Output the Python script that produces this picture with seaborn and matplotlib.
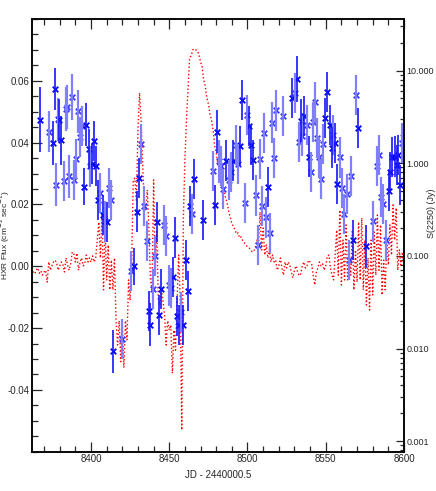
import numpy as np
import pandas as pd
import matplotlib
matplotlib.use("Agg")
import matplotlib.pyplot as plt
import matplotlib.ticker as mticker
import seaborn as sns

# HXR flux, first data set (dark symbols)
dark_jd = [8367.6, 8375.5, 8376.8, 8379.7, 8381.0, 8395.7, 8396.8, 8398.5, 8400.6, 8401.9,
           8403.2, 8404.5, 8407.5, 8410.0, 8414.3, 8427.5, 8429.2, 8430.5, 8436.9, 8437.9,
           8442.2, 8443.6, 8444.9, 8452.6, 8453.9, 8455.1, 8456.4, 8459.0, 8460.9, 8462.2,
           8463.5, 8465.8, 8471.8, 8479.4, 8480.7, 8486.3, 8490.9, 8495.2, 8496.7, 8500.9,
           8502.4, 8503.7, 8513.1, 8528.2, 8531.8, 8534.0, 8536.3, 8539.5, 8549.7, 8551.0,
           8552.5, 8553.8, 8556.1, 8557.4, 8567.6, 8570.8, 8575.5, 8590.2, 8591.3, 8592.5,
           8594.1, 8595.4, 8596.4, 8597.6]
dark_flux = [0.0474, 0.0399, 0.0573, 0.0472, 0.0407, 0.0258, 0.0458, 0.0379, 0.0332, 0.0404,
             0.0325, 0.0215, 0.0167, 0.0142, -0.0275, 0.0000, 0.0177, 0.0285, -0.0146, -0.0189,
             0.0144, -0.0157, -0.0073, -0.0035, 0.0093, -0.0160, -0.0189, -0.0189, 0.0021, -0.0081,
             0.0196, 0.0282, 0.0151, 0.0198, 0.0436, 0.0342, 0.0342, 0.0390, 0.0539, 0.0455,
             0.0393, 0.0345, 0.0256, 0.0544, 0.0606, 0.0471, 0.0487, 0.0355, 0.0479, 0.0565,
             0.0457, 0.0384, 0.0399, 0.0266, 0.0084, 0.0447, 0.0064, 0.0244, 0.0304, 0.0353,
             0.0355, 0.0328, 0.0361, 0.0262]
dark_err = [0.0105, 0.0070, 0.0068, 0.0070, 0.0080, 0.0060, 0.0070, 0.0065, 0.0065, 0.0065,
            0.0065, 0.0065, 0.0065, 0.0065, 0.0070, 0.0060, 0.0065, 0.0065, 0.0065, 0.0070,
            0.0065, 0.0065, 0.0065, 0.0065, 0.0065, 0.0065, 0.0065, 0.0065, 0.0065, 0.0065,
            0.0065, 0.0065, 0.0065, 0.0065, 0.0070, 0.0065, 0.0065, 0.0065, 0.0065, 0.0065,
            0.0065, 0.0065, 0.0065, 0.0065, 0.0075, 0.0070, 0.0065, 0.0065, 0.0065, 0.0065,
            0.0065, 0.0065, 0.0065, 0.0065, 0.0065, 0.0065, 0.0070, 0.0065, 0.0065, 0.0065,
            0.0065, 0.0065, 0.0065, 0.0065]

# HXR flux, second data set (light symbols)
light_jd = [8373.4, 8377.6, 8378.9, 8382.7, 8384.0, 8384.9, 8386.1, 8387.7, 8389.1, 8390.2,
            8391.7, 8393.2, 8394.3, 8399.6, 8405.8, 8408.8, 8411.3, 8412.6, 8419.6, 8425.8,
            8431.8, 8433.7, 8435.6, 8439.4, 8440.9, 8446.8, 8448.1, 8449.8, 8451.1, 8457.5,
            8464.5, 8477.8, 8481.8, 8483.1, 8484.2, 8488.2, 8489.5, 8492.5, 8494.1, 8498.2,
            8499.7, 8505.4, 8506.9, 8507.8, 8509.3, 8510.4, 8511.8, 8514.4, 8515.7, 8516.9,
            8518.2, 8522.7, 8530.5, 8532.9, 8535.0, 8538.0, 8540.6, 8541.9, 8543.1, 8544.4,
            8545.7, 8547.0, 8548.2, 8554.8, 8558.9, 8560.4, 8561.9, 8563.4, 8564.9, 8566.1,
            8569.1, 8580.4, 8582.5, 8583.8, 8585.1, 8586.4, 8588.5, 8598.9]
light_flux = [0.0436, 0.0264, 0.0476, 0.0277, 0.0509, 0.0515, 0.0291, 0.0547, 0.0278, 0.0347,
              0.0501, 0.0418, 0.0455, 0.0323, 0.0237, 0.0145, 0.0253, 0.0215, -0.0235, -0.0016,
              0.0396, 0.0194, 0.0081, -0.0073, 0.0032, 0.0134, 0.0099, -0.0062, -0.0070, -0.0148,
              0.0170, 0.0309, 0.0339, 0.0325, 0.0251, 0.0278, 0.0305, 0.0393, 0.0332, 0.0205,
              0.0490, 0.0229, 0.0070, 0.0348, 0.0194, 0.0431, 0.0158, 0.0108, 0.0465, 0.0350,
              0.0504, 0.0485, 0.0560, 0.0402, 0.0422, 0.0458, 0.0304, 0.0467, 0.0530, 0.0415,
              0.0352, 0.0282, 0.0395, 0.0424, 0.0352, 0.0253, 0.0170, 0.0235, 0.0021, 0.0293,
              0.0555, 0.0145, 0.0325, 0.0359, 0.0224, 0.0201, 0.0086, 0.0399]
light_err = [0.0065, 0.0070, 0.0070, 0.0065, 0.0070, 0.0070, 0.0070, 0.0075, 0.0065, 0.0065,
             0.0070, 0.0065, 0.0065, 0.0065, 0.0065, 0.0065, 0.0065, 0.0065, 0.0065, 0.0065,
             0.0065, 0.0065, 0.0065, 0.0065, 0.0065, 0.0065, 0.0065, 0.0065, 0.0065, 0.0065,
             0.0065, 0.0065, 0.0070, 0.0065, 0.0065, 0.0065, 0.0065, 0.0065, 0.0065, 0.0065,
             0.0065, 0.0065, 0.0065, 0.0065, 0.0065, 0.0065, 0.0065, 0.0065, 0.0065, 0.0065,
             0.0065, 0.0065, 0.0065, 0.0065, 0.0065, 0.0065, 0.0065, 0.0065, 0.0065, 0.0065,
             0.0065, 0.0065, 0.0065, 0.0065, 0.0065, 0.0065, 0.0065, 0.0065, 0.0065, 0.0065,
             0.0065, 0.0065, 0.0065, 0.0065, 0.0065, 0.0065, 0.0065, 0.0065]

# radio flux density S(2250) in Jy, daily
radio_jd = [8362, 8363, 8364, 8365, 8366, 8367, 8368, 8369, 8370, 8371,
            8372, 8373, 8374, 8375, 8376, 8377, 8378, 8379, 8380, 8381,
            8382, 8383, 8384, 8385, 8386, 8387, 8388, 8389, 8390, 8391,
            8392, 8393, 8394, 8395, 8396, 8397, 8398, 8399, 8400, 8401,
            8402, 8403, 8404, 8405, 8406, 8407, 8408, 8409, 8410, 8411,
            8412, 8413, 8414, 8415, 8416, 8417, 8418, 8419, 8420, 8421,
            8422, 8423, 8424, 8425, 8426, 8427, 8428, 8429, 8430, 8431,
            8432, 8433, 8434, 8435, 8436, 8437, 8438, 8439, 8440, 8441,
            8442, 8443, 8444, 8445, 8446, 8447, 8448, 8449, 8450, 8451,
            8452, 8453, 8454, 8455, 8456, 8457, 8458, 8459, 8460, 8461,
            8462, 8463, 8464, 8465, 8466, 8467, 8468, 8469, 8470, 8471,
            8472, 8473, 8474, 8475, 8476, 8477, 8478, 8479, 8480, 8481,
            8482, 8483, 8484, 8485, 8486, 8487, 8488, 8489, 8490, 8491,
            8492, 8493, 8494, 8495, 8496, 8497, 8498, 8499, 8500, 8501,
            8502, 8503, 8504, 8505, 8506, 8507, 8508, 8509, 8510, 8511,
            8512, 8513, 8514, 8515, 8516, 8517, 8518, 8519, 8520, 8521,
            8522, 8523, 8524, 8525, 8526, 8527, 8528, 8529, 8530, 8531,
            8532, 8533, 8534, 8535, 8536, 8537, 8538, 8539, 8540, 8541,
            8542, 8543, 8544, 8545, 8546, 8547, 8548, 8549, 8550, 8551,
            8552, 8553, 8554, 8555, 8556, 8557, 8558, 8559, 8560, 8561,
            8562, 8563, 8564, 8565, 8566, 8567, 8568, 8569, 8570, 8571,
            8572, 8573, 8574, 8575, 8576, 8577, 8578, 8579, 8580, 8581,
            8582, 8583, 8584, 8585, 8586, 8587, 8588, 8589, 8590, 8591,
            8592, 8593, 8594, 8595, 8596, 8597, 8598, 8599, 8600]
radio_flux = [0.074, 0.067, 0.064, 0.070, 0.074, 0.065, 0.069, 0.062, 0.067, 0.070,
              0.052, 0.086, 0.070, 0.078, 0.086, 0.090, 0.084, 0.070, 0.078, 0.086,
              0.082, 0.067, 0.095, 0.080, 0.070, 0.082, 0.110, 0.105, 0.086, 0.107,
              0.070, 0.086, 0.095, 0.078, 0.082, 0.102, 0.086, 0.095, 0.086, 0.100,
              0.086, 0.095, 0.148, 0.232, 0.095, 0.283, 0.043, 0.200, 0.055, 0.131,
              0.043, 0.090, 0.043, 0.095, 0.020, 0.0109, 0.020, 0.0072, 0.019, 0.0062,
              0.020, 0.0124, 0.055, 0.033, 0.086, 0.66, 0.69, 0.40, 2.29, 5.74,
              2.94, 0.96, 0.40, 0.31, 0.515, 0.19, 0.055, 0.043, 0.66, 0.070,
              0.19, 0.033, 0.0295, 0.043, 0.033, 0.023, 0.0109, 0.020, 0.0158, 0.0179,
              0.0054, 0.0158, 0.0096, 0.033, 0.102, 0.033, 0.00132, 0.244, 1.09, 2.94,
              6.19, 13.7, 14.4, 16.7, 17.2, 16.7, 16.3, 14.8, 12.4, 11.0,
              7.94, 6.84, 5.07, 4.37, 3.41, 2.94, 2.29, 1.54, 1.32, 0.98,
              0.846, 0.677, 0.628, 0.515, 0.422, 0.373, 0.298, 0.263, 0.221, 0.210,
              0.190, 0.172, 0.177, 0.156, 0.160, 0.145, 0.138, 0.131, 0.125, 0.122,
              0.116, 0.110, 0.113, 0.122, 0.148, 0.128, 0.298, 0.116, 0.200, 0.102,
              0.131, 0.095, 0.116, 0.086, 0.102, 0.086, 0.090, 0.070, 0.078, 0.095,
              0.074, 0.062, 0.086, 0.074, 0.086, 0.080, 0.067, 0.058, 0.070, 0.078,
              0.067, 0.061, 0.064, 0.078, 0.086, 0.074, 0.078, 0.090, 0.086, 0.082,
              0.061, 0.0485, 0.067, 0.074, 0.086, 0.078, 0.082, 0.070, 0.078, 0.100,
              0.102, 0.074, 0.062, 0.055, 0.100, 0.190, 0.062, 0.313, 0.0485, 0.148,
              0.055, 0.216, 0.055, 0.102, 0.062, 0.190, 0.043, 0.116, 0.052, 0.232,
              0.055, 0.257, 0.043, 0.148, 0.0295, 0.095, 0.026, 0.148, 0.0378, 0.181,
              0.062, 0.276, 0.070, 0.216, 0.0378, 0.090, 0.043, 0.148, 0.080, 0.216,
              0.102, 0.355, 0.148, 0.329, 0.070, 0.116, 0.080, 0.110, 0.074]

x_ticks = [8400, 8450, 8500, 8550, 8600]
hxr_ticks = [-0.04, -0.02, 0.00, 0.02, 0.04, 0.06]
radio_ticks = [0.001, 0.01, 0.1, 1.0, 10.0]

sns.set_style("ticks")
plt.rcParams['font.family'] = ['Liberation Sans Narrow', 'Liberation Sans', 'DejaVu Sans']

fig = plt.figure(figsize=(4.36, 4.91), dpi=100)
ax = fig.add_axes([0.0734, 0.080, 0.8532, 0.8813])
ax2 = ax.twinx()

# radio light curve on log axis
radio = pd.DataFrame({"jd": radio_jd, "flux": radio_flux})
sns.lineplot(data=radio, x="jd", y="flux", ax=ax2, color="red", linestyle=":",
             linewidth=1.0, estimator=None, sort=False)
ax2.set_yscale("log")
ax2.set_ylim(7.7e-4, 36)

# HXR points
ax.errorbar(light_jd, light_flux, yerr=light_err, fmt="none", ecolor="#8080ff",
            elinewidth=1.6)
ax.errorbar(dark_jd, dark_flux, yerr=dark_err, fmt="none", ecolor="#1515ff",
            elinewidth=1.2)
sns.scatterplot(x=light_jd, y=light_flux, ax=ax, marker="x", color="#3535ff",
                s=16, linewidth=1.3)
sns.scatterplot(x=dark_jd, y=dark_flux, ax=ax, marker="x", color="#0000ee",
                s=16, linewidth=1.3)

ax.set_zorder(2)
ax2.set_zorder(1)
ax.patch.set_visible(False)

ax.set_xlim(8362.3, 8600)
ax.set_ylim(-0.06, 0.08)
ax.set_xticks(x_ticks)
ax.xaxis.set_minor_locator(mticker.MultipleLocator(10))
ax.set_yticks(hxr_ticks)
ax.yaxis.set_major_formatter(mticker.FormatStrFormatter("%.2f"))
ax.yaxis.set_minor_locator(mticker.MultipleLocator(0.005))
ax.tick_params(which="both", direction="in", top=True, right=False,
               labelsize=7, width=0.9, pad=2)
ax.tick_params(which="major", length=7)
ax.tick_params(which="minor", length=4)

ax2.set_yticks(radio_ticks)
ax2.yaxis.set_major_formatter(mticker.FormatStrFormatter("%.3f"))
ax2.yaxis.set_minor_locator(mticker.LogLocator(base=10, subs=np.arange(2, 10)))
ax2.yaxis.set_minor_formatter(mticker.NullFormatter())
ax2.tick_params(which="both", direction="in", labelsize=6.5, width=0.9, pad=2)
ax2.tick_params(which="major", length=6)
ax2.tick_params(which="minor", length=3)

for a in (ax, ax2):
    for s in a.spines.values():
        s.set_linewidth(1.1)
        s.set_color("black")

ax.set_xlabel("JD - 2440000.5", fontsize=7, labelpad=4)
ax.set_ylabel("HXR Flux (cm$^{-2}$ sec$^{-1}$)", fontsize=6)
ax.yaxis.set_label_coords(-0.054, 0.5)
ax2.set_ylabel("S(2250) (Jy)", fontsize=6.5, rotation=90, va="center", ha="center")
ax2.yaxis.set_label_coords(1.074, 0.55)

fig.savefig("out.png", dpi=100)
